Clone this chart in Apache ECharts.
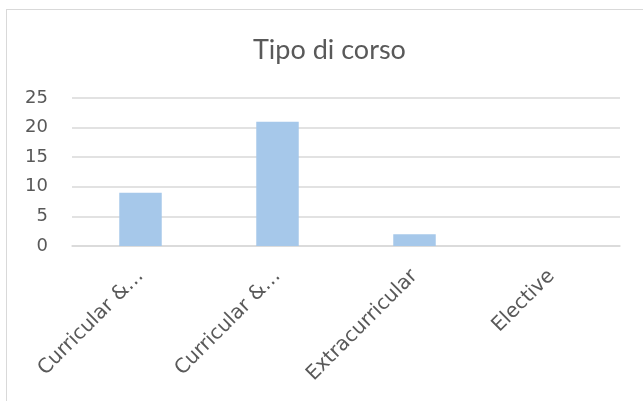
<!DOCTYPE html>
<html>
<head>
<meta charset="utf-8">
<script src="https://cdn.jsdelivr.net/npm/echarts@6/dist/echarts.min.js"></script>
<style>
  html, body { margin: 0; padding: 0; background: #fff; }
  #frame { position: absolute; left: 6px; top: 9px; width: 660px; height: 400px; border: 1px solid #d9d9d9; box-sizing: border-box; }
  #chart { position: absolute; left: 0; top: 0; width: 643px; height: 401px; }
</style>
</head>
<body>
<div id="frame"></div>
<div id="chart"></div>
<script>
// Course type counts
const chartTitle = 'Tipo di corso';
const categories = ['Curricular & Extracurricular', 'Curricular & Elective', 'Extracurricular', 'Elective'];
const shownLabels = ['Curricular &…', 'Curricular &…', 'Extracurricular', 'Elective'];
const counts = [9, 21, 2, 0];
const yTicks = [0, 5, 10, 15, 20, 25];

const axisFont = 'DejaVu Sans';

const chart = echarts.init(document.getElementById('chart'), null, { renderer: 'canvas' });
chart.setOption({
  animation: false,
  title: {
    text: chartTitle,
    left: 248,
    top: 32,
    textStyle: { fontFamily: 'Lato', fontWeight: 'normal', fontSize: 27, color: '#595959' }
  },
  grid: { left: 72, right: 23, top: 98, bottom: 155, containLabel: false },
  xAxis: {
    type: 'category',
    data: categories,
    axisLine: { show: true, lineStyle: { color: '#d9d9d9', width: 1.5 } },
    axisTick: { show: false },
    axisLabel: {
      interval: 0,
      rotate: 45,
      margin: 27,
      color: '#595959',
      fontFamily: axisFont,
      fontSize: 20,
      formatter: (v, i) => shownLabels[i]
    }
  },
  yAxis: {
    type: 'value',
    min: yTicks[0],
    max: yTicks[yTicks.length - 1],
    interval: 5,
    axisLine: { show: false },
    axisTick: { show: false },
    splitLine: { lineStyle: { color: '#d9d9d9', width: 1.5 } },
    axisLabel: { margin: 24, color: '#595959', fontFamily: axisFont, fontSize: 18 }
  },
  series: [{
    type: 'bar',
    data: counts,
    barWidth: '31%',
    itemStyle: { color: '#a6c8ea' }
  }]
});
</script>
</body>
</html>
